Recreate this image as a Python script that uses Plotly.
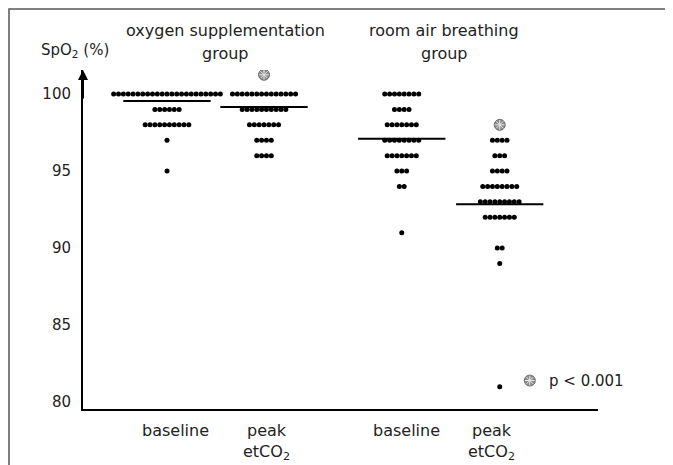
import plotly.graph_objects as go

# ---- data ----
group_title_line1 = ["oxygen supplementation", "room air breathing"]
group_title_line2 = ["group", "group"]
category_line1 = ["baseline", "peak", "baseline", "peak"]
category_line2 = ["", "etCO<sub>2</sub>", "", "etCO<sub>2</sub>"]
category_pos = [1.0, 2.0, 3.42, 4.43]

# SpO2 values (rows) and number of subjects per value, for each column
o2_base_vals = [100, 99, 98, 97, 95]
o2_base_cnts = [23, 6, 10, 1, 1]
o2_peak_vals = [100, 99, 98, 97, 96]
o2_peak_cnts = [14, 10, 7, 4, 4]
air_base_vals = [100, 99, 98, 97, 96, 95, 94, 91]
air_base_cnts = [8, 4, 7, 8, 7, 3, 2, 1]
air_peak_vals = [97, 96, 95, 94, 93, 92, 90, 89, 81]
air_peak_cnts = [4, 3, 4, 8, 9, 7, 2, 1, 1]

means = [99.55, 99.15, 97.1, 92.85]
sig_marks = [None, 101.25, None, 98.0]  # significance symbol positions
y_ticks = [80, 85, 90, 95, 100]

columns = [
    (o2_base_vals, o2_base_cnts),
    (o2_peak_vals, o2_peak_cnts),
    (air_base_vals, air_base_cnts),
    (air_peak_vals, air_peak_cnts),
]

TXT = "#222222"
FONT = "DejaVu Sans"
DOT_STEP = 0.05

fig = go.Figure()

# dots
for (vals, cnts), cx in zip(columns, category_pos):
    xs, ys = [], []
    for v, n in zip(vals, cnts):
        for i in range(n):
            xs.append(cx + (i - (n - 1) / 2) * DOT_STEP)
            ys.append(v)
    fig.add_trace(go.Scatter(x=xs, y=ys, mode="markers",
                             marker=dict(color="black", size=5, line=dict(width=0)),
                             showlegend=False, hoverinfo="y"))

# mean lines
for m, cx in zip(means, category_pos):
    fig.add_trace(go.Scatter(x=[cx - 0.45, cx + 0.45], y=[m, m], mode="lines",
                             line=dict(color="black", width=2), showlegend=False,
                             hoverinfo="skip"))

# significance markers
sx = [cx for cx, s in zip(category_pos, sig_marks) if s is not None] + [4.74]
sy = [s for s in sig_marks if s is not None] + [81.4]
fig.add_trace(go.Scatter(x=sx, y=sy, mode="markers",
                         marker=dict(symbol="circle", size=11, color="#8c8c8c",
                                     line=dict(color="#6e6e6e", width=1)),
                         showlegend=False, hoverinfo="skip"))
fig.add_trace(go.Scatter(x=sx, y=sy, mode="markers",
                         marker=dict(symbol="asterisk-open", size=8, color="#e8e8e8",
                                     line=dict(color="#e8e8e8", width=1)),
                         showlegend=False, hoverinfo="skip"))

font = dict(size=16, color=TXT, family=FONT)
font_small = dict(size=15, color=TXT, family=FONT)
ann = []
ann.append(dict(x=4.92, y=81.4, xref="x", yref="y", text="p < 0.001", showarrow=False,
                xanchor="left", font=font_small))
# group titles
for l1, l2, gx in zip(group_title_line1, group_title_line2, [1.6, 3.86]):
    ann.append(dict(x=gx, y=1.0, xref="x", yref="paper", yshift=40, text=l1,
                    showarrow=False, yanchor="middle", font=font))
    ann.append(dict(x=gx, y=1.0, xref="x", yref="paper", yshift=17, text=l2,
                    showarrow=False, yanchor="middle", font=font))
# category labels
for l1, l2, lx in zip(category_line1, category_line2, [1.09, 2.03, 3.47, 4.35]):
    ann.append(dict(x=lx, y=0, xref="x", yref="paper", yshift=-21, text=l1,
                    showarrow=False, yanchor="middle", font=font))
    if l2:
        ann.append(dict(x=lx, y=0, xref="x", yref="paper", yshift=-43, text=l2,
                        showarrow=False, yanchor="middle", font=font))
# y axis title
ann.append(dict(x=0, y=1.0, xref="paper", yref="paper", xshift=-44, yshift=20,
                text="SpO<sub>2</sub> (%)", showarrow=False, xanchor="left",
                yanchor="middle", font=font_small))
# arrow on y axis
ann.append(dict(x=0, y=1.0, xref="paper", yref="paper", ax=0, ay=30,
                showarrow=True, arrowhead=2, arrowsize=1, arrowwidth=2,
                arrowcolor="black", text=""))

# page has an 8px body margin: figure is sized/offset to compensate
fig.update_layout(
    width=665, height=457,
    margin=dict(l=75, r=75, t=62, b=56),
    paper_bgcolor="white", plot_bgcolor="white",
    annotations=ann,
    shapes=[dict(type="rect", xref="paper", yref="paper",
                 x0=-0.1437, x1=1.136, y0=-0.4, y1=1.18,
                 line=dict(color="#555555", width=1.5), layer="above")],
    xaxis=dict(range=[0.134, 5.443], showgrid=False, zeroline=False,
               showticklabels=False, ticks="", showline=True,
               linecolor="black", linewidth=2),
    yaxis=dict(range=[79.55, 101.56], showgrid=False, zeroline=False,
               tickvals=y_ticks, ticks="", showline=True, linecolor="black",
               linewidth=2, ticklabelstandoff=7,
               tickfont=font_small),
)

fig.write_html("out.html")
